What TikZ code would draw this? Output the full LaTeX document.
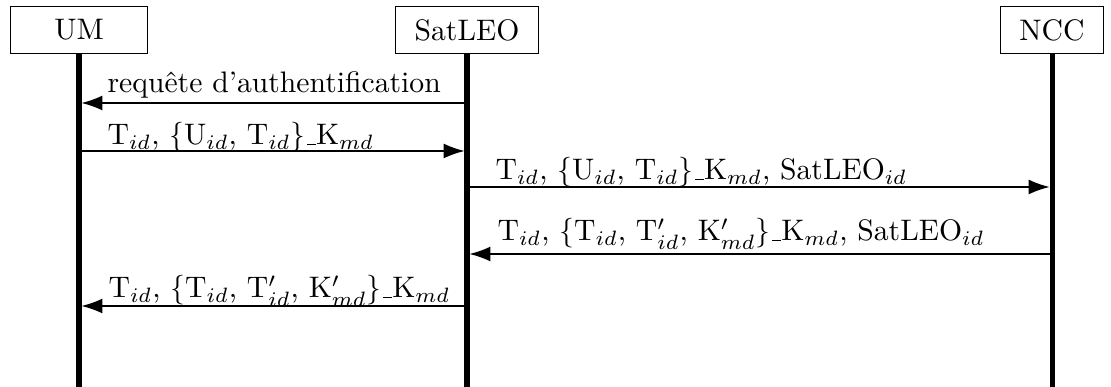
\documentclass[tikz,border=0pt]{standalone}
\usepackage{tikz}
\usetikzlibrary{arrows.meta,positioning}
\newcommand{\keysep}{\leavevmode\kern.06em\vbox{\hrule width.3em}}
\tikzset{
    entity/.style={
        rectangle,
        draw,
        minimum height=16pt,
        inner xsep=6.5pt,
        text centered
    },
    lifeline/.style={
        line width=1.7pt
    },
    msg/.style={
        -{Latex[length=7pt,width=5pt]},
        shorten >=0.85pt
    },
    msglabel/.style={
        anchor=base west,
        inner sep=0pt
    }
}

\begin{document}
\begin{tikzpicture}[x=0.337pt,y=-0.337pt]
    \useasboundingbox (0,0) rectangle (1111,387);

    % Entities
    \node[entity, minimum width=46pt] (um) at (79,30) {UM};
    \node[entity] (sat) at (467,30) {SatLEO};
    \node[entity] (ncc) at (1052,30) {NCC};

    % Lifelines
    \coordinate (umend) at (79,387);
    \coordinate (satend) at (467,387);
    \coordinate (nccend) at (1052,387);
    \draw[lifeline] (um.south) -- (umend);
    \draw[lifeline] (sat.south) -- (satend);
    \draw[lifeline] (ncc.south) -- (nccend);

    % Message end points
    \coordinate (um1) at (79,103);
    \coordinate (sat1) at (467,103);
    \coordinate (um2) at (79,151);
    \coordinate (sat2) at (467,151);
    \coordinate (sat3) at (467,187);
    \coordinate (ncc3) at (1052,187);
    \coordinate (sat4) at (467,254);
    \coordinate (ncc4) at (1052,254);
    \coordinate (um5) at (79,306);
    \coordinate (sat5) at (467,306);

    % Messages
    \draw[msg] (sat1) -- (um1);
    \draw[msg] (um2) -- (sat2);
    \draw[msg] (sat3) -- (ncc3);
    \draw[msg] (ncc4) -- (sat4);
    \draw[msg] (sat5) -- (um5);

    % Labels
    \node[msglabel] (l1) at (107,93) {requête d'authentification};
    \node[msglabel] (l2) at (107,145) {T$_{id}$, $\{$U$_{id}$, T$_{id}$$\}$\keysep K$_{md}$};
    \node[msglabel] (l3) at (495,180) {T$_{id}$, $\{$U$_{id}$, T$_{id}$$\}$\keysep K$_{md}$, SatLEO$_{id}$};
    \node[msglabel] (l4) at (497,241) {T$_{id}$, $\{$T$_{id}$, T$'_{id}$, K$'_{md}$$\}$\keysep K$_{md}$, SatLEO$_{id}$};
    \node[msglabel] (l5) at (108,298) {T$_{id}$, $\{$T$_{id}$, T$'_{id}$, K$'_{md}$$\}$\keysep K$_{md}$};
\end{tikzpicture}
\end{document}
